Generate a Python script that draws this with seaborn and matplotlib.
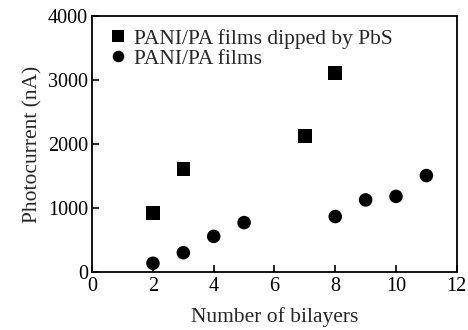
import matplotlib
matplotlib.use("Agg")
import matplotlib.pyplot as plt
import seaborn as sns
import pandas as pd

# dados
pbs_layers = [2, 3, 7, 8]
pbs_current = [920, 1610, 2125, 3105]
pani_layers = [2, 3, 4, 5, 8, 9, 10, 11]
pani_current = [135, 300, 555, 770, 865, 1125, 1180, 1505]

labels = ["PANI/PA films dipped by PbS", "PANI/PA films"]

df = pd.concat([
    pd.DataFrame({"layers": pbs_layers, "current": pbs_current, "serie": labels[0]}),
    pd.DataFrame({"layers": pani_layers, "current": pani_current, "serie": labels[1]}),
])

sns.set_style("ticks")
plt.rcParams['font.family'] = ['Liberation Serif', 'DejaVu Serif']

fig = plt.figure(figsize=(4.68, 3.3), dpi=100)
ax = fig.add_axes([0.197, 0.176, 0.779, 0.776])

sns.scatterplot(data=df, x="layers", y="current", hue="serie", style="serie",
                markers={labels[0]: "s", labels[1]: "o"},
                palette={labels[0]: "black", labels[1]: "black"},
                s=95, edgecolor="black", linewidth=0, ax=ax)

ax.set_xlim(0, 12)
ax.set_ylim(0, 4000)
ax.set_xticks([0, 2, 4, 6, 8, 10, 12])
ax.set_yticks([0, 1000, 2000, 3000, 4000])
ax.tick_params(direction="in", length=5, width=1.2, labelsize=14.5, colors="black")
ax.tick_params(axis="x", pad=4)
ax.tick_params(axis="y", pad=3)
for sp in ax.spines.values():
    sp.set_linewidth(1.3)
    sp.set_color("black")
ax.set_xlabel("Number of bilayers", fontsize=15.5, labelpad=8)
ax.set_ylabel("Photocurrent (nA)", fontsize=15.5, labelpad=4)

leg = ax.legend(loc="upper left", frameon=False, fontsize=15.5, handletextpad=0.15,
                borderaxespad=0.3, borderpad=0.3, labelspacing=0.0, markerscale=0.85,
                handlelength=1.2)

fig.savefig("out.png", dpi=100)
